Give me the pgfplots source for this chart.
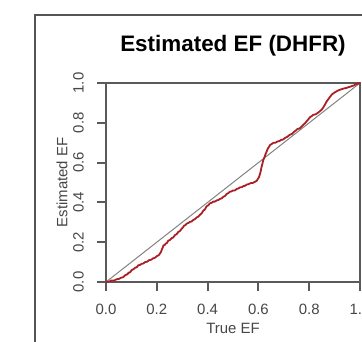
\documentclass[border=0pt]{standalone}
\usepackage{pgfplots}
\pgfplotsset{compat=1.18}
\usepackage{fontspec}
\setmainfont{Liberation Sans}

\definecolor{efred}{RGB}{170,30,36}
\definecolor{boxgray}{RGB}{90,90,90}
\definecolor{diaggray}{RGB}{130,130,130}
\definecolor{framegray}{RGB}{85,85,85}
\definecolor{labelgray}{RGB}{70,70,70}

\pgfplotsset{
  % number format of the tick labels, set in the text font
  /pgf/number format/fixed,
  /pgf/number format/fixed zerofill,
  /pgf/number format/precision=1,
  /pgf/number format/assume math mode=true,
}

\begin{document}
\begin{tikzpicture}
\clip (-106bp,-60bp) rectangle (256bp,282bp);
\path[use as bounding box] (-106bp,-60bp) rectangle (256bp,282bp);
\begin{axis}[
  scale only axis,
  width=254bp, height=199bp,
  xmin=0, xmax=1, ymin=0, ymax=1,
  xtick={0,0.2,0.4,0.6,0.8,1},
  ytick={0,0.2,0.4,0.6,0.8,1},
  xtick pos=left, ytick pos=left,
  tick align=outside,
  major tick length=9bp,
  major tick style={draw=boxgray, line width=2bp},
  axis line style={boxgray, line width=1.2bp},
  ticklabel style={font=\fontsize{15}{18}\selectfont, text=labelgray},
  xticklabel style={yshift=-11bp, anchor=north, inner sep=2bp},
  yticklabel style={xshift=-11bp, rotate=90, anchor=south, inner sep=2bp},
  title={Estimated EF (DHFR)},
  title style={font=\fontsize{22.5}{26}\bfseries, at={(axis description cs:0.5,1.156)}, anchor=center},
  xlabel={True EF},
  xlabel style={font=\fontsize{15}{18}\selectfont, text=labelgray, at={(axis description cs:0.5,-0.231)}, anchor=center},
  ylabel={Estimated EF},
  ylabel style={font=\fontsize{15}{18}\selectfont, text=labelgray, at={(axis description cs:-0.173,0.5)}, anchor=center, rotate=0},
]
% reference diagonal
\addplot[diaggray, line width=1bp] coordinates {(0,0) (1,1)};
% estimated enrichment curve
\addplot[efred, line width=1.8bp, line join=round] table {
x y
0.000 0.000
0.012 0.002
0.022 0.008
0.032 0.007
0.042 0.014
0.052 0.016
0.060 0.022
0.068 0.024
0.075 0.034
0.083 0.038
0.090 0.047
0.096 0.050
0.101 0.060
0.108 0.064
0.115 0.072
0.121 0.074
0.127 0.084
0.134 0.086
0.140 0.091
0.147 0.093
0.154 0.100
0.162 0.102
0.170 0.110
0.178 0.112
0.186 0.119
0.193 0.122
0.200 0.130
0.207 0.134
0.213 0.144
0.217 0.152
0.220 0.164
0.223 0.172
0.226 0.184
0.231 0.186
0.236 0.194
0.240 0.196
0.245 0.208
0.251 0.210
0.258 0.220
0.265 0.224
0.272 0.236
0.278 0.240
0.285 0.252
0.291 0.256
0.298 0.268
0.303 0.274
0.308 0.284
0.313 0.286
0.318 0.294
0.324 0.296
0.330 0.302
0.337 0.304
0.344 0.312
0.350 0.316
0.357 0.324
0.363 0.328
0.370 0.338
0.376 0.344
0.383 0.358
0.389 0.364
0.396 0.380
0.403 0.386
0.410 0.396
0.416 0.398
0.422 0.404
0.429 0.404
0.436 0.410
0.442 0.412
0.449 0.418
0.455 0.420
0.462 0.428
0.468 0.432
0.475 0.442
0.481 0.446
0.488 0.454
0.494 0.455
0.500 0.460
0.507 0.460
0.515 0.468
0.521 0.470
0.528 0.476
0.534 0.476
0.541 0.482
0.548 0.484
0.555 0.490
0.562 0.492
0.570 0.497
0.578 0.498
0.587 0.504
0.593 0.508
0.598 0.518
0.602 0.526
0.606 0.542
0.609 0.556
0.612 0.576
0.615 0.590
0.619 0.612
0.623 0.624
0.628 0.642
0.632 0.654
0.637 0.670
0.641 0.678
0.646 0.688
0.653 0.694
0.660 0.700
0.667 0.700
0.675 0.706
0.682 0.708
0.690 0.714
0.697 0.716
0.705 0.724
0.714 0.730
0.724 0.740
0.732 0.744
0.740 0.754
0.748 0.762
0.755 0.770
0.760 0.770
0.764 0.774
0.771 0.782
0.778 0.792
0.784 0.798
0.790 0.808
0.797 0.818
0.803 0.828
0.810 0.834
0.816 0.840
0.824 0.842
0.832 0.848
0.840 0.856
0.849 0.866
0.855 0.876
0.860 0.887
0.865 0.898
0.869 0.908
0.875 0.918
0.880 0.927
0.885 0.935
0.889 0.942
0.897 0.950
0.905 0.956
0.913 0.962
0.921 0.966
0.930 0.970
0.938 0.973
0.946 0.975
0.954 0.979
0.961 0.981
0.968 0.985
0.975 0.987
0.980 0.991
0.990 0.996
1.000 1.000
};
\end{axis}
% outer panel frame
\draw[framegray, line width=2bp] (-71bp,-60bp) -- (-71bp,267bp) -- (256bp,267bp);
\end{tikzpicture}
\end{document}
